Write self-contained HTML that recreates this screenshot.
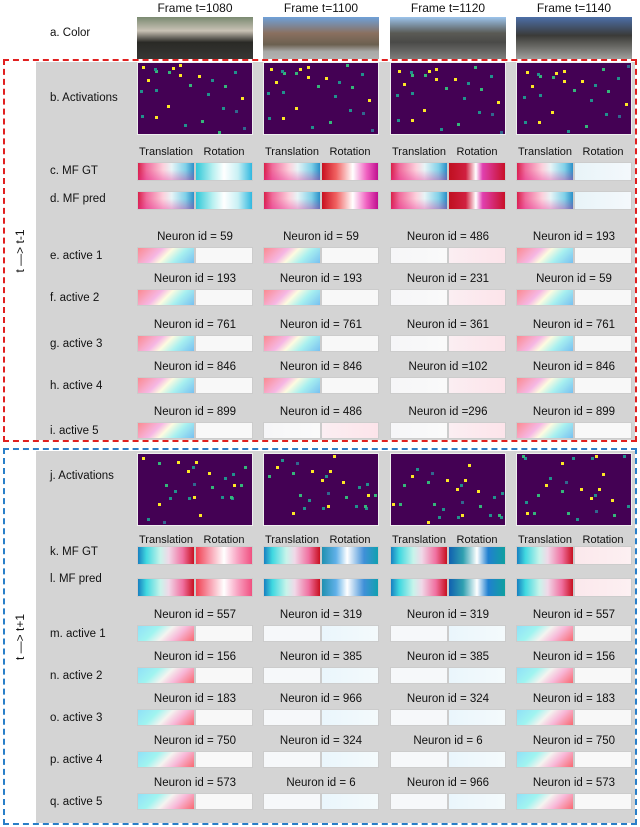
<!DOCTYPE html>
<html><head><meta charset="utf-8">
<style>
body{margin:0;background:#fff;font-family:"Liberation Sans",sans-serif;}
#root{position:relative;width:640px;height:827px;overflow:hidden;background:#fff;}
.a{position:absolute;}
.t{position:absolute;font-size:11.5px;color:#111;white-space:nowrap;}
.c{transform:translateX(-50%);}
.bar{position:absolute;border:1px solid #ccc;box-sizing:border-box;}
</style></head>
<body><div id="root"></div>
<script>
const frames=["Frame t=1080","Frame t=1100","Frame t=1120","Frame t=1140"];
const redIds=[["59","59","486","193"],["193","193","231","59"],["761","761","361","761"],["846","846","=102","846"],["899","486","=296","899"]];
const blueIds=[["557","319","319","557"],["156","385","385","156"],["183","966","324","183"],["750","324","6","750"],["573","6","966","573"]];
const redLabels=["e. active 1","f. active 2","g. active 3","h. active 4","i. active 5"];
const blueLabels=["m. active 1","n. active 2","o. active 3","p. active 4","q. active 5"];
const redActive=[[1,1,0,1],[1,1,0,1],[1,1,0,1],[1,1,0,1],[1,0,0,1]];
const blueActive=[[1,0,0,1],[1,0,0,1],[1,0,0,1],[1,0,0,1],[1,0,0,1]];

const root=document.getElementById('root');
const colX=[137,263,390,516];
const colW=116;
function box(x,y,w,h,bg,name,cls){const d=document.createElement('div');d.className=cls||'a';
d.style.cssText+=`left:${x}px;top:${y}px;width:${w}px;height:${h}px;background:${bg};`;


root.appendChild(d);return d;}
function txt(x,y,s,name,center,size){const d=document.createElement('div');d.className='t'+(center?' c':'');
d.style.left=x+'px';d.style.top=y+'px';if(size)d.style.fontSize=size+'px';d.textContent=s;


root.appendChild(d);return d;}

const photoBg=[
"linear-gradient(180deg,#7a8a70 0%,#c9c2b5 30%,#2a2a26 55%,#3a3a38 100%)",
"linear-gradient(180deg,#6fa0d8 0%,#8a7060 35%,#6b6050 60%,#a8a8a6 75%,#b8b8b8 100%)",
"linear-gradient(180deg,#9cc4ec 0%,#5a5a55 35%,#4a4a48 55%,#8a8a88 100%)",
"linear-gradient(180deg,#4d6fa8 0%,#3a3a38 40%,#6a6a66 65%,#b0b0ae 100%)"];
frames.forEach((f,i)=>{txt(colX[i]+colW/2,1,f,'frame-title-'+(i+1),true,12);
box(colX[i],17,colW,46,photoBg[i],'color-image-'+(i+1));});
txt(50,27,"a. Color",'row-label-color',false);

function panel(y,h,color,label,name){
 const o=box(3,y,634,h,'#fff',name+'-box');o.style.border=`2.5px dashed ${color}`;o.style.boxSizing='border-box';
 box(36,y+2.5,598.5,h-5,'#d4d4d4',name+'-panel');
 const l=txt(20,y+h/2,label,name+'-side-label',false,12);
 l.style.transform='translate(-50%,-50%) rotate(-90deg)';
}
panel(59,383,'#e02020','t \u2014> t-1','red');
panel(448,377,'#2a7fc8','t \u2014> t+1','blue');

const dots=[[3,1,'#fde725'],[14,3,'#35b779'],[28,1,'#fde725'],[34,5,'#fde725'],[50,5,'#fde725'],[61,7,'#21918c'],[72,10,'#35b779'],[10,12,'#21918c'],[40,9,'#35b779'],[55,14,'#21918c'],[85,16,'#fde725'],[92,12,'#21918c'],[18,20,'#fde725'],[66,21,'#21918c'],[77,22,'#31688e'],[5,25,'#fde725'],[46,27,'#35b779'],[95,5,'#fde725'],[29,29,'#21918c'],[88,24,'#21918c'],[24,33,'#fde725'],[58,32,'#35b779'],[80,30,'#31688e'],[12,36,'#35b779'],[70,36,'#21918c'],[96,34,'#21918c']];
function acts(y,name,shift){colX.forEach((x,i)=>{
 const b=box(x,y,colW,73,'#440154',name+'-heatmap-'+(i+1));b.style.border='1px solid #eee';b.style.boxSizing='border-box';
 dots.forEach((d,k)=>{const dx=(d[0]+shift*(i*7+k*3))%98, dy=(d[1]+shift*(i*5+k))%37;
  const s=document.createElement('div');s.className='a';
  s.style.cssText=`left:${dx/100*(colW-4)+1}px;top:${dy/38*70+1}px;width:3px;height:3px;background:${d[2]};`;
  
  
  b.appendChild(s);});});}
acts(62,'red-activation',0.2);
acts(453,'blue-activation',1);
txt(50,92,"b. Activations",'row-label-b');
txt(50,470,"j. Activations",'row-label-j');

const TR="linear-gradient(180deg,rgba(255,255,255,0) 40%,rgba(230,40,150,0.35) 100%),linear-gradient(90deg,#d8204a 0%,#f06c9c 15%,#fcd0dc 45%,#e8f4f6 60%,#80d0e8 85%,#2a90c8 100%)";
const TB="linear-gradient(90deg,#1880c0 0%,#40d8e0 15%,#c8f4ea 40%,#f0d8e8 55%,#f070a0 80%,#c81020 100%)";
const redRotGT=["linear-gradient(90deg,#30c8d8,#b8f0f0 30%,#ffffff 50%,#c8f0f4 75%,#30b8e0)",
"linear-gradient(90deg,#c81020,#f06060 25%,#ffffff 55%,#f060c0 80%,#c01090)",
"linear-gradient(90deg,#c01020,#d02040 30%,#ffffff 48%,#e040b0 60%,#c81028 100%)",
"linear-gradient(90deg,#e8f4f8,#f4f8fc)"];
const blueRotGT=["linear-gradient(90deg,#f04050,#f8a0b0 25%,#ffffff 50%,#f8a0c0 75%,#f05080)",
"linear-gradient(90deg,#2090b0,#60b0e8 25%,#ffffff 45%,#4090d8 75%,#10a0b0)",
"linear-gradient(90deg,#1060b0,#30a0b0 25%,#ffffff 50%,#2080d0 70%,#10a0a0)",
"linear-gradient(90deg,#fbe8ec,#fdf0f2)"];
function pair(y,h,i,tbg,rbg,name){
 box(colX[i],y,58,h,tbg,name+'-translation-'+(i+1),'bar');
 box(colX[i]+58,y,58,h,rbg,name+'-rotation-'+(i+1),'bar');}
function headers(y,name){colX.forEach((x,i)=>{txt(x+29,y,"Translation",name+'-translation-title',true,11);txt(x+87,y,"Rotation",name+'-rotation-title',true,11);});}
headers(146,'red');headers(534,'blue');
colX.forEach((x,i)=>{pair(162,19,i,TR,redRotGT[i],'red-mf-gt');pair(191,19,i,TR,redRotGT[i],'red-mf-pred');
 pair(546,19,i,TB,blueRotGT[i],'blue-mf-gt');pair(578,19,i,TB,blueRotGT[i],'blue-mf-pred');});
txt(50,165,"c. MF GT",'row-label-c');txt(50,193,"d. MF pred",'row-label-d');
txt(50,546,"k. MF GT",'row-label-k');txt(50,573,"l. MF pred",'row-label-l');

const AR="linear-gradient(135deg,#fb8a90 0%,#f6b8e4 35%,#fdfbe0 50%,#a8f0f0 70%,#78c0f0 100%)";
const AB="linear-gradient(135deg,#90e0f8 0%,#a0f4f0 30%,#f4f4f0 50%,#f8b8d8 70%,#f86870 100%)";
const PALE="linear-gradient(90deg,#f6f6f8,#fafafa)";
const PALEP="linear-gradient(90deg,#fbeef2,#fce4ea)";
const PALEB="linear-gradient(90deg,#eaf6fc,#f4fafc)";
const redRows=[237,279,325,367,412];
const blueRows=[615,657,699,741,783];
redRows.forEach((y,r)=>{txt(50,y+13,redLabels[r],'row-label-active-red-'+(r+1));
 colX.forEach((x,i)=>{const id=redIds[r][i];txt(x+58,y-6,"Neuron id "+(id[0]=='='?id:'= '+id),'neuron-label',true,11.5);
  if(redActive[r][i])pair(y+10,17,i,AR,'#f8f8f8','red-active');else pair(y+10,17,i,PALE,PALEP,'red-active');});});
blueRows.forEach((y,r)=>{txt(50,y+13,blueLabels[r],'row-label-active-blue-'+(r+1));
 colX.forEach((x,i)=>{const id=blueIds[r][i];txt(x+58,y-6,"Neuron id = "+id,'neuron-label',true,11.5);
  if(blueActive[r][i])pair(y+10,17,i,AB,'#f8f8f8','blue-active');else pair(y+10,17,i,'#f6f8fa',PALEB,'blue-active');});});
</script></body></html>
